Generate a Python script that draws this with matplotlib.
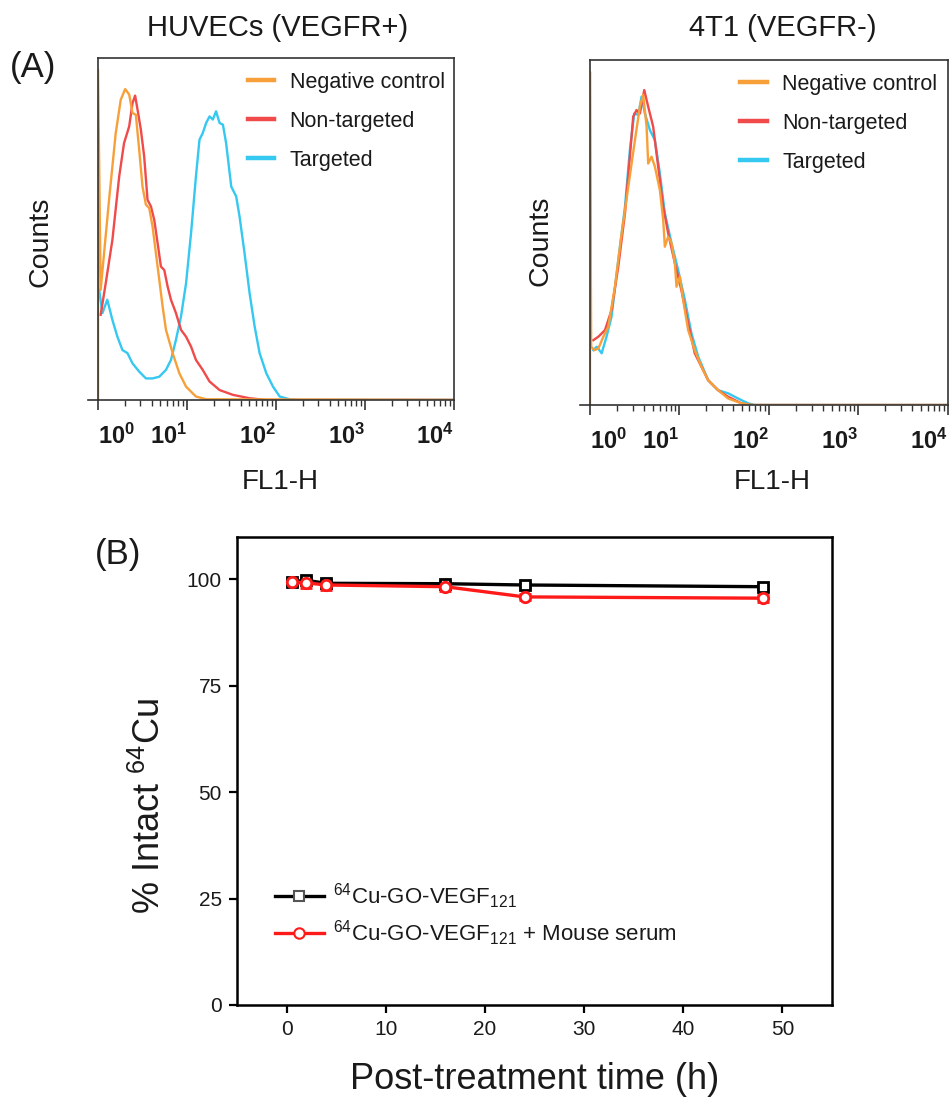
import matplotlib
matplotlib.use("Agg")
import matplotlib.pyplot as plt
from matplotlib.lines import Line2D

plt.rcParams['font.family'] = ['Liberation Sans', 'DejaVu Sans']
plt.rcParams['mathtext.fontset'] = 'custom'
plt.rcParams['mathtext.rm'] = 'Liberation Sans'
plt.rcParams['mathtext.it'] = 'Liberation Sans:italic'
plt.rcParams['mathtext.bf'] = 'Liberation Sans:bold'
plt.rcParams['mathtext.default'] = 'regular'

# ---- flow cytometry histograms (FL1-H vs counts, % of panel height) ----
# HUVECs (VEGFR+)
neg_x_huv = [1.0, 1.0, 1.07, 1.33, 1.58, 1.80, 2.02, 2.24, 2.44, 2.66,
             2.90, 3.16, 3.45, 3.76, 4.10, 4.47, 4.88, 5.32, 5.80, 6.89,
             8.20, 9.75, 12.6, 16.4, 10000]
neg_y_huv = [0, 96.6, 32.2, 58.5, 78.0, 87.8, 90.9, 89.3, 83.9, 83.4,
             73.2, 62.4, 57.1, 56.1, 50.7, 42.9, 35.1, 27.3, 20.5, 13.7,
             7.8, 3.9, 1.0, 0.2, 0]
non_x_huv = [1.07, 1.22, 1.45, 1.73, 1.96, 2.24, 2.44, 2.61, 2.78, 3.03,
             3.30, 3.60, 3.93, 4.28, 4.67, 5.09, 5.55, 6.05, 6.60, 7.51,
             8.56, 9.75, 11.1, 12.6, 15.0, 17.9, 23.2, 32.7, 50.5, 77.8, 10000]
non_y_huv = [24.9, 34.1, 46.8, 65.4, 75.1, 80.0, 86.8, 89.0, 84.9, 79.0,
             71.2, 58.5, 56.6, 52.7, 45.9, 39.0, 38.0, 33.2, 29.3, 25.4,
             20.5, 18.5, 15.6, 11.7, 8.8, 5.4, 2.9, 1.5, 0.5, 0, 0]
tgt_x_huv = [1.03, 1.12, 1.27, 1.45, 1.65, 1.88, 2.14, 2.44, 2.90, 3.45,
             4.10, 4.88, 5.80, 6.60, 7.51, 8.56, 9.75, 11.1, 12.6, 13.8,
             15.0, 16.4, 17.9, 19.5, 21.2, 23.2, 25.3, 27.5, 31.4, 35.7,
             38.9, 44.3, 50.5, 57.5, 65.4, 77.8, 92.5, 110, 143, 185, 10000]
tgt_y_huv = [32.2, 25.4, 29.3, 23.4, 18.5, 14.6, 13.7, 10.7, 8.3, 6.3,
             6.3, 6.8, 8.8, 11.7, 17.6, 24.4, 34.1, 48.8, 65.4, 76.1,
             78.0, 81.0, 82.9, 82.0, 84.4, 81.0, 80.5, 75.1, 62.4, 59.5,
             53.7, 42.9, 31.2, 21.5, 13.7, 7.8, 3.9, 1.0, 0.2, 0, 0]

# 4T1 (VEGFR-)
neg_x_4t1 = [1.0, 1.0, 1.03, 1.12, 1.24, 1.41, 1.60, 1.90, 2.26, 2.68,
             3.18, 3.61, 3.93, 4.29, 4.47, 4.87, 5.31, 6.04, 6.58, 6.86,
             7.47, 8.15, 8.88, 9.26, 10.1, 11.0, 12.5, 14.8, 17.6, 20.9,
             27.0, 34.9, 49.1, 63.5, 10000]
neg_y_4t1 = [0, 96.6, 16.9, 15.9, 16.4, 19.8, 22.7, 34.3, 49.8, 63.3,
             76.8, 86.5, 89.9, 80.7, 70.0, 72.0, 69.1, 62.3, 53.6, 45.9,
             48.8, 46.9, 41.1, 34.3, 37.2, 30.4, 21.7, 15.9, 11.1, 7.2,
             4.3, 1.9, 0.5, 0, 0]
non_x_4t1 = [1.09, 1.24, 1.47, 1.74, 2.07, 2.46, 2.79, 3.04, 3.31, 3.61,
             4.04, 4.47, 5.08, 5.78, 6.58, 7.47, 8.88, 10.5, 12.5, 14.8,
             17.6, 20.9, 27.0, 34.9, 49.1, 63.5, 10000]
non_y_4t1 = [18.8, 19.8, 21.7, 27.5, 40.1, 55.6, 72.0, 83.6, 85.5, 84.5,
             91.3, 86.5, 80.7, 69.1, 57.5, 49.8, 41.1, 33.3, 23.7, 15.0,
             11.1, 7.2, 4.3, 2.4, 0.5, 0, 0]
tgt_x_4t1 = [1.09, 1.19, 1.35, 1.53, 1.74, 2.07, 2.46, 2.79, 3.12, 3.46,
             3.77, 4.11, 4.67, 5.31, 6.04, 6.86, 8.15, 9.67, 11.5, 13.6,
             16.2, 20.9, 27.0, 34.9, 45.1, 58.3, 69.2, 10000]
tgt_y_4t1 = [15.9, 16.9, 15.0, 19.8, 25.6, 42.0, 57.5, 73.9, 84.5, 84.1,
             89.4, 84.5, 79.7, 76.8, 67.1, 55.6, 46.9, 39.1, 30.4, 20.8,
             14.0, 7.2, 4.3, 3.4, 1.9, 0.5, 0, 0]

hist_labels = ["Negative control", "Non-targeted", "Targeted"]
hist_colors = ["#F7A03A", "#F04A4A", "#35C8F0"]
decades = [1, 10, 100, 1000, 10000]

# ---- serum stability ----
time_h = [0.5, 2, 4, 16, 24, 48]
go_vegf = [99.5, 99.8, 99.1, 99.0, 98.7, 98.3]
go_vegf_err = [0.5, 0.8, 0.7, 0.6, 0.5, 0.5]
serum = [99.3, 99.2, 98.7, 98.3, 95.9, 95.6]
serum_err = [0.6, 1.2, 1.1, 0.9, 0.7, 0.8]

txt = "#1a1a1a"
fig = plt.figure(figsize=(9.49, 11), dpi=100)


def histogram_panel(rect, series, title, title_x, ylab_xy, xlab_xy):
    ax = fig.add_axes(rect)
    # draw targeted first so the negative control sits on top
    for (xs, ys), c in reversed(list(zip(series, hist_colors))):
        ax.plot(xs, ys, color=c, lw=1.7, solid_joinstyle='round')
    ax.set_xscale('log')
    ax.set_xlim(1, 10000)
    ax.set_ylim(0, 100)
    for s in ax.spines.values():
        s.set_color('#333333')
        s.set_linewidth(1.2)
    ax.tick_params(axis='y', left=False, labelleft=False)
    ax.tick_params(axis='x', which='major', direction='out', length=7,
                   width=1.2, pad=10, colors='#333333', labelcolor=txt,
                   labelsize=17)
    ax.tick_params(axis='x', which='minor', direction='out', length=4,
                   width=1.0, colors='#333333')
    ax.set_xticks(decades)
    ax.set_xticklabels([r'$\mathbf{10^{%d}}$' % len(str(d)[1:]) for d in decades])
    for i, lab in enumerate(ax.get_xticklabels()):
        lab.set_horizontalalignment('left' if i == 0 else 'right')
    # axis line running a little past the left frame
    ax.plot([-0.028, 0], [0, 0], transform=ax.transAxes, color='#333333',
            lw=1.2, clip_on=False)
    ax.set_ylabel("Counts", fontsize=20.5, color=txt, va='center')
    ax.yaxis.set_label_coords(*ylab_xy)
    ax.set_xlabel("FL1-H", fontsize=20, color=txt, va='center')
    ax.xaxis.set_label_coords(*xlab_xy)
    handles = [Line2D([], [], color=c, lw=3.2) for c in hist_colors]
    ax.legend(handles, hist_labels, loc='upper left',
              bbox_to_anchor=(0.42, 0.960), frameon=False, fontsize=15.5,
              handlelength=1.25, handletextpad=0.7, labelspacing=0.84,
              borderpad=0, borderaxespad=0, labelcolor=txt)
    fig.text(title_x, 0.9745, title, fontsize=21, color=txt,
             ha='center', va='center')
    return ax


histogram_panel([0.1033, 0.6364, 0.3751, 0.3109],
                [(neg_x_huv, neg_y_huv), (non_x_huv, non_y_huv),
                 (tgt_x_huv, tgt_y_huv)],
                "HUVECs (VEGFR+)", 0.293, (-0.163, 0.462), (0.511, -0.24))
histogram_panel([0.6217, 0.6318, 0.3772, 0.3136],
                [(neg_x_4t1, neg_y_4t1), (non_x_4t1, non_y_4t1),
                 (tgt_x_4t1, tgt_y_4t1)],
                "4T1 (VEGFR-)", 0.825, (-0.137, 0.475), (0.508, -0.223))

fig.text(0.0105, 0.939, "(A)", fontsize=25, color=txt, va='center')
fig.text(0.1, 0.4955, "(B)", fontsize=25, color=txt, va='center')

# ---- panel B ----
ax = fig.add_axes([0.2497, 0.0864, 0.6270, 0.4255])
ax.errorbar(time_h, go_vegf, yerr=go_vegf_err, color='black', lw=2.4,
            marker='s', ms=7, mfc='white', mec='black', mew=2,
            elinewidth=2, capsize=4, capthick=2)
ax.errorbar(time_h, serum, yerr=serum_err, color='#FF1A1A', lw=2.4,
            marker='o', ms=7.5, mfc='white', mec='#FF1A1A', mew=2,
            elinewidth=2, capsize=4, capthick=2)
ax.set_xlim(-5, 55)
ax.set_ylim(0, 110)
ax.set_xticks([0, 10, 20, 30, 40, 50])
ax.set_yticks([0, 25, 50, 75, 100])
for s in ax.spines.values():
    s.set_linewidth(1.8)
ax.tick_params(direction='out', length=6, width=1.6, labelsize=15,
               labelcolor=txt, pad=5)
ax.set_xlabel("Post-treatment time (h)", fontsize=26, color=txt, va='center')
ax.xaxis.set_label_coords(0.5, -0.16)
ax.set_ylabel(r"% Intact $^{64}$Cu", fontsize=26, color=txt, va='center')
ax.yaxis.set_label_coords(-0.146, 0.425)

b_handles = [
    Line2D([], [], color='black', lw=2.4, marker='s', ms=7, mfc='white',
           mec='#555555', mew=1.5),
    Line2D([], [], color='#FF1A1A', lw=2.4, marker='o', ms=7.5, mfc='white',
           mec='#FF1A1A', mew=1.5),
]
b_labels = [r"$^{64}$Cu-GO-VEGF$_{121}$",
            r"$^{64}$Cu-GO-VEGF$_{121}$ + Mouse serum"]
ax.legend(b_handles, b_labels, loc='upper left', bbox_to_anchor=(0.064, 0.264),
          frameon=False, fontsize=16, handlelength=2.2, handletextpad=0.4,
          labelspacing=0.35, borderpad=0, borderaxespad=0, labelcolor=txt)

fig.savefig("out.png", dpi=100)
